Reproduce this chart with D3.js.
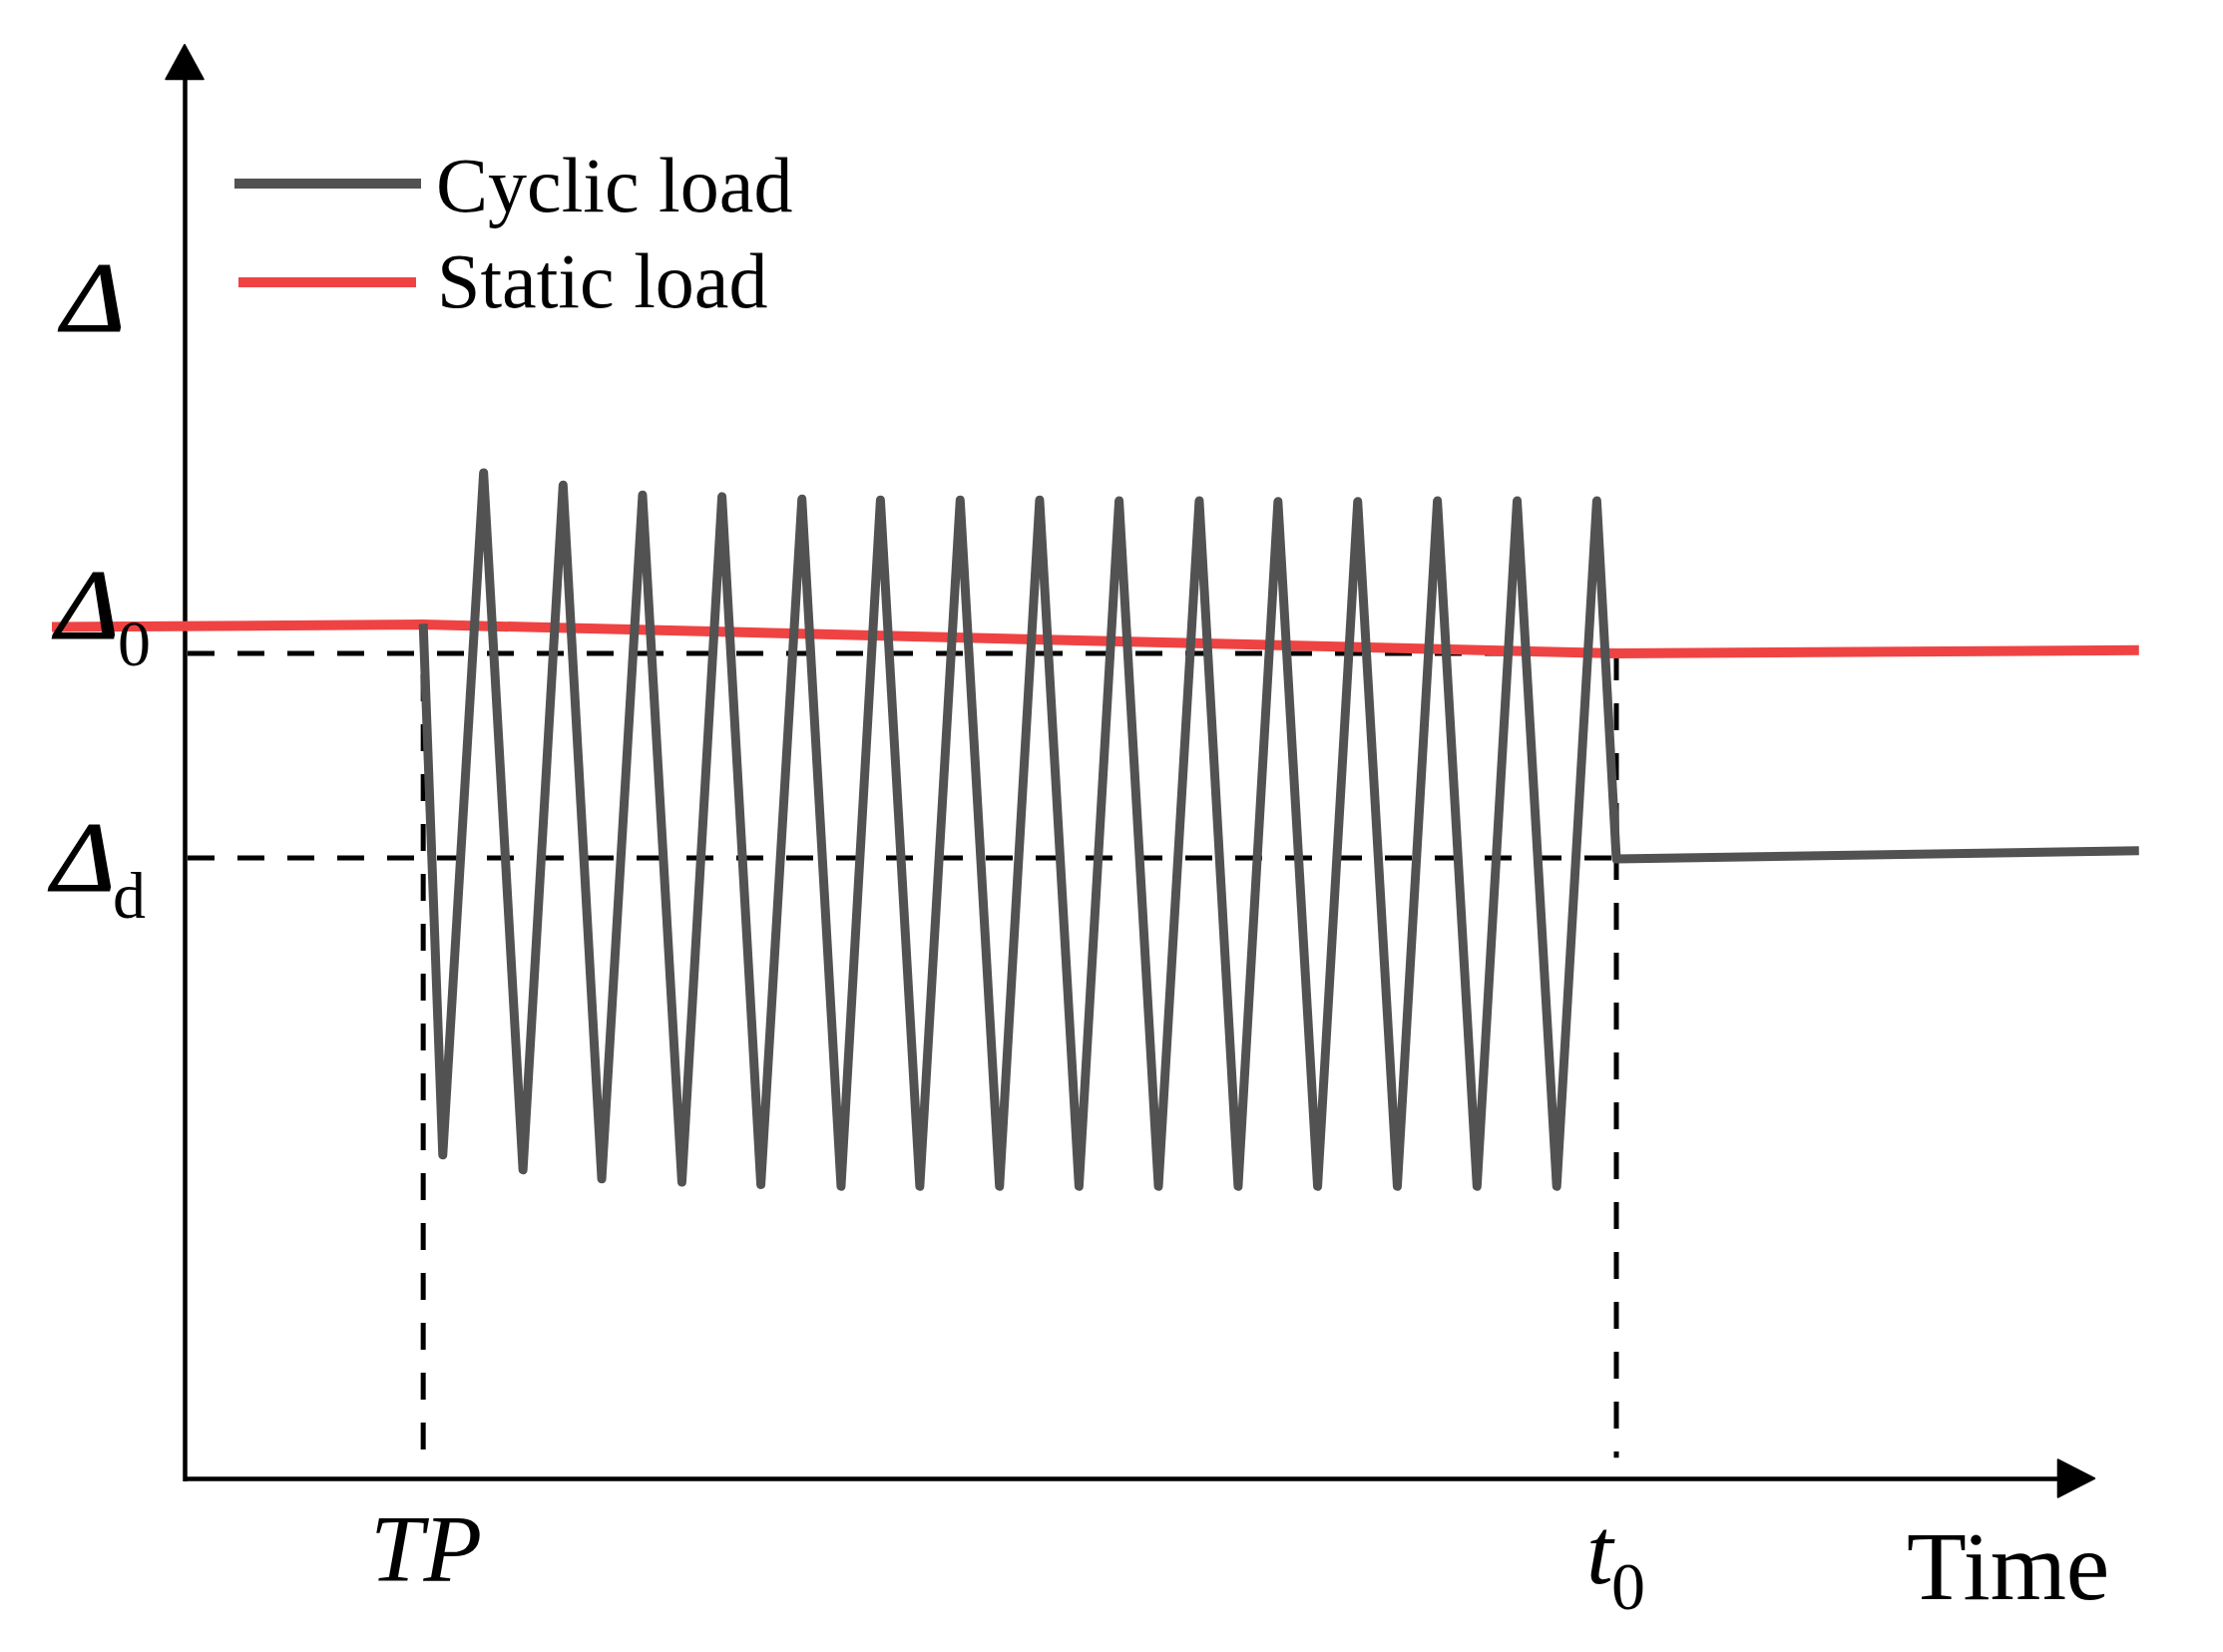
<!DOCTYPE html>
<html>
<head>
<meta charset="utf-8">
<script src="https://cdn.jsdelivr.net/npm/d3@7"></script>
<style>
  html, body { margin: 0; padding: 0; background: #fff; }
  text { font-family: "Liberation Serif", "Times New Roman", serif; fill: #000; }
</style>
</head>
<body>
<svg id="chart" width="2228" height="1656"></svg>
<script>
// ---- data ----
const seriesNames = ["Cyclic load", "Static load"];
// cyclic load: start at TP, 15 cycles (trough, peak), drop at t0, then hold
const cyclicTime = [10, 10.82, 12.53, 14.18, 15.86, 17.48, 19.19, 20.84, 22.52, 24.15, 25.87,
  27.51, 29.16, 30.81, 32.50, 34.15, 35.83, 37.48, 39.16, 40.81, 42.52, 44.15, 45.82,
  47.48, 49.16, 50.82, 52.50, 54.16, 55.84, 57.50, 59.18, 60, 81.9];
const cyclicValue = [10.36, 3.92, 12.19, 3.74, 12.04, 3.63, 11.92, 3.59, 11.90, 3.56, 11.87,
  3.54, 11.86, 3.54, 11.86, 3.54, 11.86, 3.54, 11.85, 3.54, 11.85, 3.54, 11.84,
  3.54, 11.84, 3.54, 11.85, 3.54, 11.85, 3.54, 11.85, 7.51, 7.61];
const staticTime = [-5.56, 10, 60, 81.9];
const staticValue = [10.32, 10.35, 10.0, 10.04];
const refTime = [10, 60];          // TP, t0
const refValue = [10, 7.52];       // Δ0, Δd
const axisMax = { x: 78.5, y: 16.96, xTip: 80.05, yTip: 17.38 };

// ---- scales ----
const svg = d3.select("#chart");
const x = d3.scaleLinear().domain([0, 60]).range([185, 1620]);
const y = d3.scaleLinear().domain([0, 10]).range([1482, 655]);
const gray = "#525252", red = "#EF4343";

// ---- dashed reference lines ----
const dash = "27,23";
refValue.forEach(v => {
  svg.append("line").attr("x1", x(0)).attr("x2", x(refTime[1]) - 2)
    .attr("y1", y(v)).attr("y2", y(v))
    .attr("stroke", "#000").attr("stroke-width", 5).attr("stroke-dasharray", dash)
    .attr("stroke-dashoffset", -3);
});
svg.append("line").attr("x1", x(refTime[0])).attr("x2", x(refTime[0]))
  .attr("y1", y(staticValue[1])).attr("y2", y(0.28))
  .attr("stroke", "#000").attr("stroke-width", 5).attr("stroke-dasharray", dash);
svg.append("line").attr("x1", x(refTime[1])).attr("x2", x(refTime[1]))
  .attr("y1", y(refValue[0])).attr("y2", y(0.25))
  .attr("stroke", "#000").attr("stroke-width", 5).attr("stroke-dasharray", dash);

// ---- axes ----
const xAxisScale = d3.scaleLinear().domain([0, axisMax.x]).range([x(0), x(axisMax.x)]);
const yAxisScale = d3.scaleLinear().domain([-0.03, axisMax.y]).range([y(-0.03), y(axisMax.y)]);
const gx = svg.append("g").attr("transform", `translate(0,${y(0)})`)
  .call(d3.axisBottom(xAxisScale).tickValues([]).tickSizeOuter(0));
const gy = svg.append("g").attr("transform", `translate(${x(0)},0)`)
  .call(d3.axisLeft(yAxisScale).tickValues([]).tickSizeOuter(0));
[gx, gy].forEach(g => g.select(".domain").attr("stroke", "#000").attr("stroke-width", 4.5));
// arrowheads
svg.append("path")
  .attr("d", `M${x(axisMax.xTip)},${y(0)} L${x(axisMax.x)},${y(0) - 19} L${x(axisMax.x)},${y(0) + 19} Z`)
  .attr("fill", "#000").attr("stroke", "#000").attr("stroke-width", 1.5).attr("stroke-linejoin", "round");
svg.append("path")
  .attr("d", `M${x(0)},${y(axisMax.yTip)} L${x(0) - 19},${y(axisMax.y)} L${x(0) + 19},${y(axisMax.y)} Z`)
  .attr("fill", "#000").attr("stroke", "#000").attr("stroke-width", 1.5).attr("stroke-linejoin", "round");

// ---- series ----
const line = d3.line().x(d => x(d[0])).y(d => y(d[1]));
const staticData = staticTime.map((t, i) => [t, staticValue[i]]);
const cyclicData = cyclicTime.map((t, i) => [t, cyclicValue[i]]);
svg.append("path").datum(staticData).attr("d", line)
  .attr("fill", "none").attr("stroke", red).attr("stroke-width", 10);
svg.append("path").datum(cyclicData).attr("d", line)
  .attr("fill", "none").attr("stroke", gray).attr("stroke-width", 9)
  .attr("stroke-linejoin", "round").attr("stroke-linecap", "butt");

// ---- legend ----
const legend = [
  { name: seriesNames[0], color: gray, x1: 235, x2: 422, ly: 184, tx: 437, ty: 212 },
  { name: seriesNames[1], color: red, x1: 239, x2: 417, ly: 283, tx: 438, ty: 308 }
];
legend.forEach(l => {
  svg.append("line").attr("x1", l.x1).attr("x2", l.x2).attr("y1", l.ly).attr("y2", l.ly)
    .attr("stroke", l.color).attr("stroke-width", 10);
  svg.append("text").attr("x", l.tx).attr("y", l.ty).attr("font-size", 78).text(l.name);
});

// ---- labels ----
function label(txt, px, py, size, italic) {
  return svg.append("text").attr("x", px).attr("y", py).attr("font-size", size)
    .attr("font-style", italic ? "italic" : "normal").text(txt);
}
function delta(px, py) {
  label("Δ", 0, 0, 100, true)
    .attr("transform", `translate(${px},${py}) scale(1.08,1)`)
    .attr("stroke", "#000").attr("stroke-width", 1.2);
}
delta(62, 332);
delta(56, 640);
label("0", 118, 667, 66, false);
delta(52, 893);
label("d", 113, 920, 66, false);
label("TP", 371, 1585, 96, true);
label("t", 1590, 1587, 96, true);
label("0", 1615, 1613, 68, false);
label("Time", 1911, 1603, 98, false);
</script>
</body>
</html>
